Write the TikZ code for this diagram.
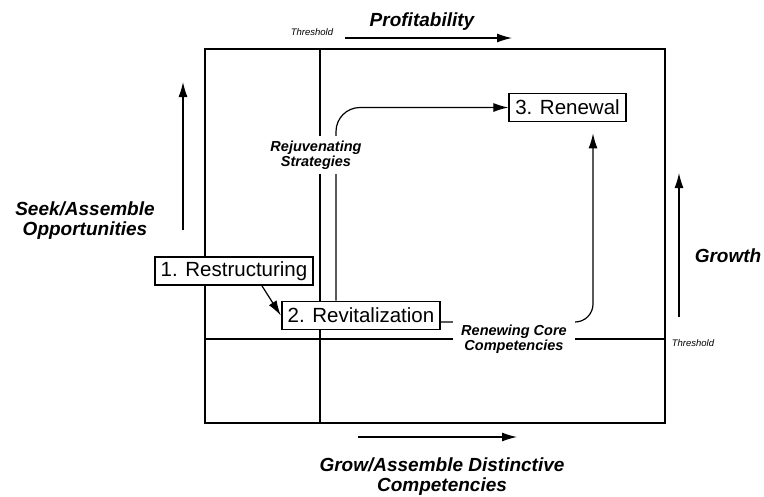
\documentclass[tikz,border=0pt]{standalone}
\usepackage{fontspec}
\setmainfont{Liberation Sans}
\usetikzlibrary{arrows.meta}
\begin{document}
\begin{tikzpicture}[x=1pt,y=-1pt,
  stage/.style={draw, line width=1.8pt, fill=white,
    font=\fontsize{20.5}{24}\selectfont, inner xsep=6pt, inner ysep=0pt,
    minimum height=28pt},
  axislabel/.style={font=\fontsize{19}{20}\selectfont\bfseries\itshape, align=center},
  pathlabel/.style={font=\fontsize{14.5}{15.5}\selectfont\bfseries\itshape,
    align=center, fill=white},
  thr/.style={font=\fontsize{9.5}{11}\selectfont\itshape},
  frame/.style={line width=1.5pt},
  gridline/.style={line width=1.1pt},
  flow/.style={line width=1.2pt, -{Latex[length=15pt,width=9pt]}},
]
\useasboundingbox (0,0) rectangle (764,496);

% outer frame and the two threshold lines
\draw[frame] (205,49) rectangle (665,423);
\draw[gridline] (320,49) -- (320,423);
\draw[gridline] (205,339) -- (665,339);

% axis arrows
\coordinate (pA) at (345,38);  \coordinate (pB) at (512,38);
\coordinate (sA) at (183,230); \coordinate (sB) at (183,82);
\coordinate (gA) at (679,317); \coordinate (gB) at (679,173);
\coordinate (cA) at (358,437); \coordinate (cB) at (517,437);
\draw[flow] (pA) -- (pB);
\draw[flow] (sA) -- (sB);
\draw[flow] (gA) -- (gB);
\draw[flow] (cA) -- (cB);

% stages
\node[stage] (restr) at (234,271) {1. Restructuring};
\node[stage] (revit) at (361,315.5) {2. Revitalization};
\node[stage] (renew) at (567.5,107.5) {3. Renewal};

% transitions between stages
\draw[flow] ([xshift=28pt]restr.south) -- (revit.west);
\draw[flow, rounded corners=24pt] ([xshift=-25pt]revit.north) |- (renew.west);
\draw[flow, rounded corners=18pt, shorten >=11pt]
  ([yshift=-6.5pt]revit.east) -| ([xshift=25.5pt]renew.south);

% path labels (masking the lines beneath)
\node[pathlabel, inner xsep=4pt, inner ysep=4pt] (rejuv) at (316,155)
  {Rejuvenating\\Strategies};
\node[pathlabel, inner xsep=8.5pt, inner ysep=5pt] (rcore) at (514,339)
  {Renewing Core\\Competencies};

% axis labels
\node[thr] (thtop) at (312,32) {Threshold};
\node[thr] (thright) at (693,343) {Threshold};
\node[axislabel] (prof) at (422,22) {Profitability};
\node[axislabel] (seek) at (85,221) {Seek/Assemble\\Opportunities};
\node[axislabel] (grow) at (728,256) {Growth};
\node[axislabel] (comp) at (442,477) {Grow/Assemble Distinctive\\Competencies};
\end{tikzpicture}
\end{document}
